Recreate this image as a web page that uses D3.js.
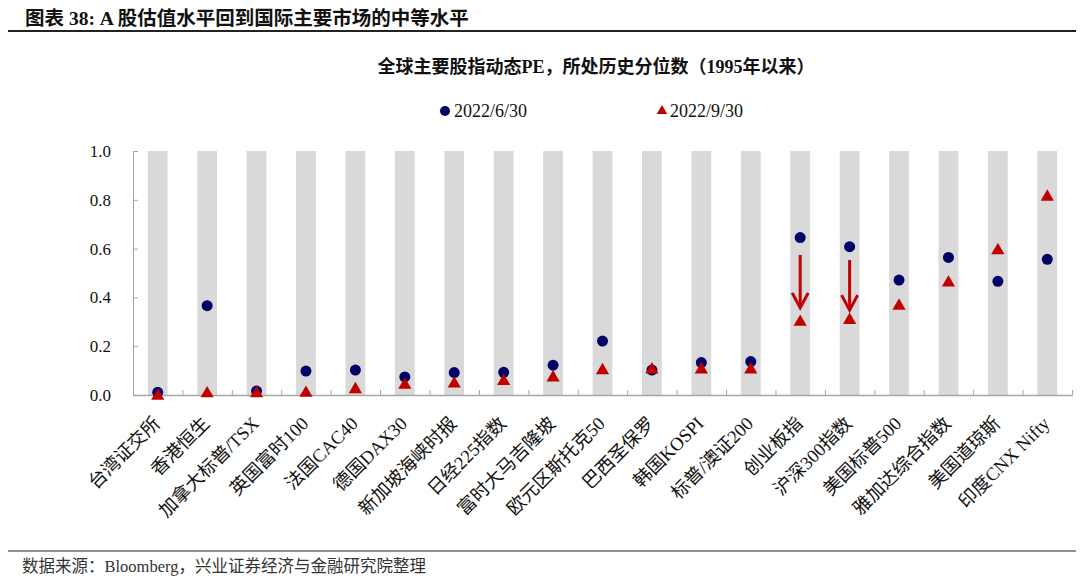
<!DOCTYPE html>
<html>
<head>
<meta charset="UTF-8">
<title>A股估值水平</title>
<script src="https://cdn.jsdelivr.net/npm/d3@7"></script>
<style type="text/css">
	body { margin:0; background-color:white; }
	svg text { font-family:"Liberation Serif","Noto Sans CJK SC",serif; }
</style>
</head>
<body>
<script type="text/javascript">

// données
var categories = ['台湾证交所','香港恒生','加拿大标普/TSX','英国富时100','法国CAC40','德国DAX30',
	'新加坡海峡时报','日经225指数','富时大马吉隆坡','欧元区斯托克50','巴西圣保罗','韩国KOSPI',
	'标普/澳证200','创业板指','沪深300指数','美国标普500','雅加达综合指数','美国道琼斯','印度CNX Nifty'];
var serieJuin = [0.011,0.366,0.016,0.098,0.102,0.074,0.092,0.093,0.122,0.221,0.102,0.133,0.137,
	0.645,0.608,0.471,0.564,0.466,0.556];
var serieSept = [0.0,0.01,0.01,0.012,0.027,0.045,0.05,0.061,0.075,0.105,0.108,0.108,0.108,
	0.303,0.311,0.369,0.464,0.597,0.816];
var nomsSeries = ['2022/6/30','2022/9/30'];
var yTicks = [0,0.2,0.4,0.6,0.8,1.0];
// flèches rouges (de, à)
var fleches = [{cat:'创业板指', de:0.574, a:0.357},{cat:'沪深300指数', de:0.553, a:0.348}];

var large = 1080, haut = 581,
 gauche = 133, droite = 1072, hautG = 151, basG = 395,
 cBleu = '#000066', cRouge = '#c00000', cGris = '#d9d9d9', cAxe = '#a6a6a6';

var svg = d3.select('body').append('svg')
	.attr('width',large)
	.attr('height',haut);

// titre
svg.append('text')
	.attr('x',25).attr('y',25)
	.attr('font-size',19.5).attr('font-weight','bold').attr('fill','#111')
	.text('图表 38: A 股估值水平回到国际主要市场的中等水平');
svg.append('line')
	.attr('x1',8).attr('x2',1076).attr('y1',31).attr('y2',31)
	.attr('stroke','#222').attr('stroke-width',2);

svg.append('text')
	.attr('x',596).attr('y',73)
	.attr('text-anchor','middle')
	.attr('font-size',18).attr('font-weight','bold').attr('fill','#111')
	.text('全球主要股指动态PE，所处历史分位数（1995年以来）');

var x = d3.scaleBand()
	.domain(categories)
	.range([gauche, droite])
	.paddingInner(0.6)
	.paddingOuter(0.3);
var y = d3.scaleLinear()
	.domain([0, 1])
	.range([basG, hautG]);
var xBord = d3.scaleLinear()
	.domain([0, categories.length])
	.range([gauche, droite]);

// colonnes grises de fond
svg.selectAll('.fond')
	.data(categories).enter().append('rect')
	.attr('class','fond')
	.attr('x',function(d){ return x(d); })
	.attr('width',x.bandwidth())
	.attr('y',y(1))
	.attr('height',y(0)-y(1))
	.attr('fill',cGris);

// axe y
var axeY = svg.append('g')
	.attr('transform','translate('+gauche+',0)')
	.call(d3.axisLeft(y).tickValues(yTicks).tickFormat(d3.format('.1f')).tickSize(-5).tickPadding(22));
axeY.select('.domain').attr('stroke',cAxe);
axeY.selectAll('.tick line').attr('stroke',cAxe);
axeY.selectAll('.tick text').attr('font-size',17).attr('fill','#111')
	.attr('font-family','"Liberation Serif",serif');

// axe x
var axeX = svg.append('g')
	.attr('transform','translate(0,'+basG+')')
	.call(d3.axisBottom(xBord).tickValues(d3.range(1, categories.length+1)).tickSize(-5).tickSizeOuter(0).tickFormat(''));
axeX.select('.domain').attr('stroke',cAxe).attr('stroke-width',1.5);
axeX.selectAll('.tick line').attr('stroke',cAxe);

svg.selectAll('.etiq')
	.data(categories).enter().append('text')
	.attr('class','etiq')
	.attr('text-anchor','end')
	.attr('font-size',18.5)
	.attr('fill','#111')
	.attr('dy','0.35em')
	.attr('transform',function(d){
		return 'translate('+(x(d)+x.bandwidth()/2-1)+','+(basG+25)+') rotate(-45)';
	})
	.text(function(d){ return d; });

// flèches
var fl = svg.selectAll('.fleche')
	.data(fleches).enter().append('g')
	.attr('class','fleche')
	.attr('stroke',cRouge).attr('stroke-width',3).attr('fill','none');
fl.append('line')
	.attr('x1',function(d){ return x(d.cat)+x.bandwidth()/2; })
	.attr('x2',function(d){ return x(d.cat)+x.bandwidth()/2; })
	.attr('y1',function(d){ return y(d.de); })
	.attr('y2',function(d){ return y(d.a)-1; });
fl.append('path')
	.attr('d',function(d){
		var cx = x(d.cat)+x.bandwidth()/2, ty = y(d.a);
		return 'M'+(cx-8)+','+(ty-15)+'L'+cx+','+ty+'L'+(cx+8)+','+(ty-15);
	});

// points
svg.selectAll('.juin')
	.data(serieJuin).enter().append('circle')
	.attr('class','juin')
	.attr('cx',function(d,i){ return x(categories[i])+x.bandwidth()/2; })
	.attr('cy',function(d){ return y(d); })
	.attr('r',5.5)
	.attr('fill',cBleu);

var tri = d3.symbol().type(d3.symbolTriangle).size(75);
svg.selectAll('.sept')
	.data(serieSept).enter().append('path')
	.attr('class','sept')
	.attr('d',tri)
	.attr('transform',function(d,i){
		return 'translate('+(x(categories[i])+x.bandwidth()/2)+','+(y(d)+1)+')';
	})
	.attr('fill',cRouge);

// légende
var leg = svg.append('g');
leg.append('circle').attr('cx',445).attr('cy',111).attr('r',5).attr('fill',cBleu);
leg.append('text').attr('x',454).attr('y',117).attr('font-size',18).attr('fill','#111').text(nomsSeries[0]);
leg.append('path').attr('d',d3.symbol().type(d3.symbolTriangle).size(48))
	.attr('transform','translate(662,111)').attr('fill',cRouge);
leg.append('text').attr('x',670).attr('y',117).attr('font-size',18).attr('fill','#111').text(nomsSeries[1]);

// source
svg.append('line')
	.attr('x1',8).attr('x2',1076).attr('y1',551).attr('y2',551)
	.attr('stroke','#222').attr('stroke-width',1);
svg.append('text')
	.attr('x',22).attr('y',572)
	.attr('font-size',16.5).attr('fill','#333')
	.text('数据来源：Bloomberg，兴业证券经济与金融研究院整理');

</script>
</body>
</html>
